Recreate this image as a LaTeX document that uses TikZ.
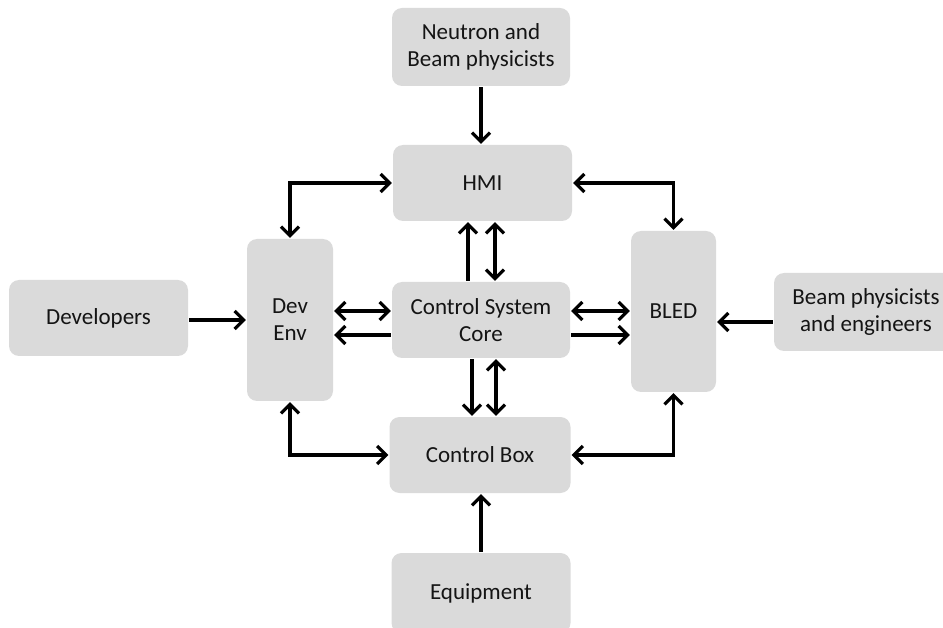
\documentclass[tikz,border=0pt]{standalone}
\usepackage{fontspec}
\setmainfont{Carlito}
\usetikzlibrary{arrows.meta}
\definecolor{boxgray}{HTML}{DADADA}
\definecolor{txt}{HTML}{141414}
\begin{document}
\begin{tikzpicture}[x=1pt,y=-1pt,
 box/.style={fill=boxgray, rounded corners=10pt, inner sep=0pt, align=center, font=\fontsize{23}{27}\selectfont, text=txt},
 conn/.style={line width=3.2pt, shorten >=1pt, shorten <=1pt, >={Straight Barb[length=9pt,width=18pt]}}]
\useasboundingbox (0,0) rectangle (943,628);
\node[box, minimum width=178pt, minimum height=78pt] (nb) at (481,47) {Neutron and\\Beam physicists};
\node[box, minimum width=179pt, minimum height=76pt] (hmi) at (482.5,183) {HMI};
\node[box, minimum width=86pt, minimum height=162pt] (dev) at (290,320) {Dev\\Env};
\node[box, minimum width=178pt, minimum height=76pt] (csc) at (481,320) {Control System\\Core};
\node[box, minimum width=181pt, minimum height=76pt] (cb) at (480,455) {Control Box};
\node[box, minimum width=179pt, minimum height=80pt] (equip) at (481,593) {Equipment};
\node[box, minimum width=179pt, minimum height=76pt] (developers) at (98.5,318) {Developers};
\node[box, minimum width=85pt, minimum height=161pt] (bled) at (673.5,311.5) {BLED};
\node[box, minimum width=184pt, minimum height=78pt] (beam) at (866,312) {Beam physicists\\and engineers};

\draw[conn,->] (nb.south) -- (nb.south |- hmi.north);
\draw[conn,<->] (hmi.west) -| (dev.north);
\draw[conn,<->] (hmi.east) -| (bled.north);
\draw[conn,->] ([xshift=-13pt]csc.north) -- ([xshift=-13pt]csc.north |- hmi.south);
\draw[conn,<->] ([xshift=14pt]csc.north) -- ([xshift=14pt]csc.north |- hmi.south);
\draw[conn,<->] ([yshift=9pt]csc.west) -- ([yshift=9pt]csc.west -| dev.east);
\draw[conn,->] ([yshift=-15pt]csc.west) -- ([yshift=-15pt]csc.west -| dev.east);
\draw[conn,<->] ([yshift=9pt]csc.east) -- ([yshift=9pt]csc.east -| bled.west);
\draw[conn,->] ([yshift=-15pt]csc.east) -- ([yshift=-15pt]csc.east -| bled.west);
\draw[conn,->] ([xshift=-9pt]csc.south) -- ([xshift=-9pt]csc.south |- cb.north);
\draw[conn,<->] ([xshift=15pt]csc.south) -- ([xshift=15pt]csc.south |- cb.north);
\draw[conn,<->] (cb.west) -| (dev.south);
\draw[conn,<->] (cb.east) -| (bled.south);
\draw[conn,->] (equip.north) -- (equip.north |- cb.south);
\draw[conn,->] ([yshift=-2pt]developers.east) -- ([yshift=-2pt]developers.east -| dev.west);
\draw[conn,->] ([yshift=-10pt]beam.west) -- ([yshift=-10pt]beam.west -| bled.east);
\end{tikzpicture}
\end{document}
